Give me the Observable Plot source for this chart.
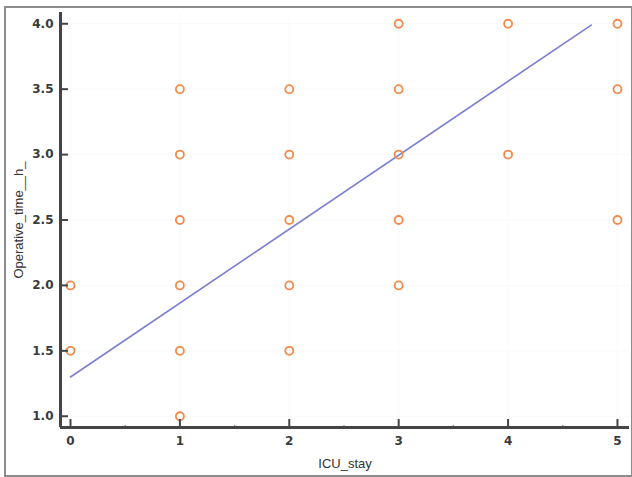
<!DOCTYPE html>
<html>
<head>
<meta charset="utf-8">
<script src="https://cdn.jsdelivr.net/npm/d3@7"></script>
<script src="https://cdn.jsdelivr.net/npm/@observablehq/plot@0.6"></script>
<style>
  html, body { margin: 0; padding: 0; background: #fff; }
  #wrap { position: relative; width: 632px; height: 477px; overflow: hidden; }
  #border { position: absolute; left: 4px; top: 6px; width: 625px; height: 467px; border: 2px solid #8c8c8c; pointer-events: none; }
</style>
</head>
<body>
<div id="wrap"><div id="border"></div></div>
<script>
// Data
const icuStay = [0, 0, 1, 1, 1, 1, 1, 1, 2, 2, 2, 2, 2, 3, 3, 3, 3, 3, 4, 4, 5, 5, 5];
const operativeTime = [2.0, 1.5, 3.5, 3.0, 2.5, 2.0, 1.5, 1.0, 3.5, 3.0, 2.5, 2.0, 1.5, 4.0, 3.5, 3.0, 2.5, 2.0, 4.0, 3.0, 4.0, 3.5, 2.5];
const fitX = [0, 4.76];
const fitY = [1.30, 3.99];
const xTicks = [0, 1, 2, 3, 4, 5];
const xMinor = [0.5, 1.5, 2.5, 3.5, 4.5];
const yTicks = [1.0, 1.5, 2.0, 2.5, 3.0, 3.5, 4.0];
const xDomain = [-0.0914, 5.11];
const yDomain = [0.914, 4.086];

const points = icuStay.map((x, i) => ({x, y: operativeTime[i]}));
const fit = fitX.map((x, i) => ({x, y: fitY[i]}));

const W = 632, H = 477, mL = 60, mT = 12, mR = 3, mB = 50;
const frameW = W - mL - mR, frameH = H - mT - mB;
const axisColor = "#444";

const chart = Plot.plot({
  width: W, height: H,
  marginLeft: mL, marginTop: mT, marginRight: mR, marginBottom: mB,
  style: {background: "transparent", fontFamily: "'Liberation Sans', Arial, sans-serif"},
  x: {domain: xDomain},
  y: {domain: yDomain},
  marks: [
    Plot.gridX(xTicks, {stroke: "#000", strokeOpacity: 0.025}),
    Plot.gridY(yTicks, {stroke: "#000", strokeOpacity: 0.025}),
    Plot.line(fit, {x: "x", y: "y", stroke: "#7b7fd2", strokeWidth: 1.6}),
    Plot.dot(points, {x: "x", y: "y", r: 4, stroke: "#f28a4c", strokeWidth: 1.8, fill: "none"}),
    Plot.tickX(xTicks, {x: d => d, insetTop: frameH - 8, stroke: axisColor, strokeWidth: 2}),
    Plot.tickX(xMinor, {x: d => d, insetTop: frameH - 2, stroke: "#888", strokeWidth: 1.2}),
    Plot.tickY(yTicks, {y: d => d, insetRight: frameW - 8, stroke: axisColor, strokeWidth: 2}),
    Plot.ruleY([yDomain[0]], {stroke: axisColor, strokeWidth: 3}),
    Plot.ruleX([xDomain[0]], {stroke: axisColor, strokeWidth: 3}),
    Plot.axisX(xTicks, {tickSize: 0, tickPadding: 9, label: null, tickFormat: d3.format("d"),
      fontSize: 12, fontWeight: "bold", fontFamily: "'DejaVu Sans', sans-serif", fill: "#3a3a3a"}),
    Plot.axisY(yTicks, {tickSize: 0, tickPadding: 7, label: null, tickFormat: d3.format(".1f"),
      fontSize: 12, fontWeight: "bold", fontFamily: "'DejaVu Sans', sans-serif", fill: "#3a3a3a"}),
    Plot.axisX([], {label: "ICU_stay", labelAnchor: "center", labelArrow: "none", labelOffset: 40,
      fontSize: 13, fill: "#333"}),
    Plot.axisY([], {label: "Operative_time__h_", labelAnchor: "center", labelArrow: "none", labelOffset: 47,
      fontSize: 13, fill: "#333"})
  ]
});
document.getElementById("wrap").prepend(chart);
</script>
</body>
</html>
